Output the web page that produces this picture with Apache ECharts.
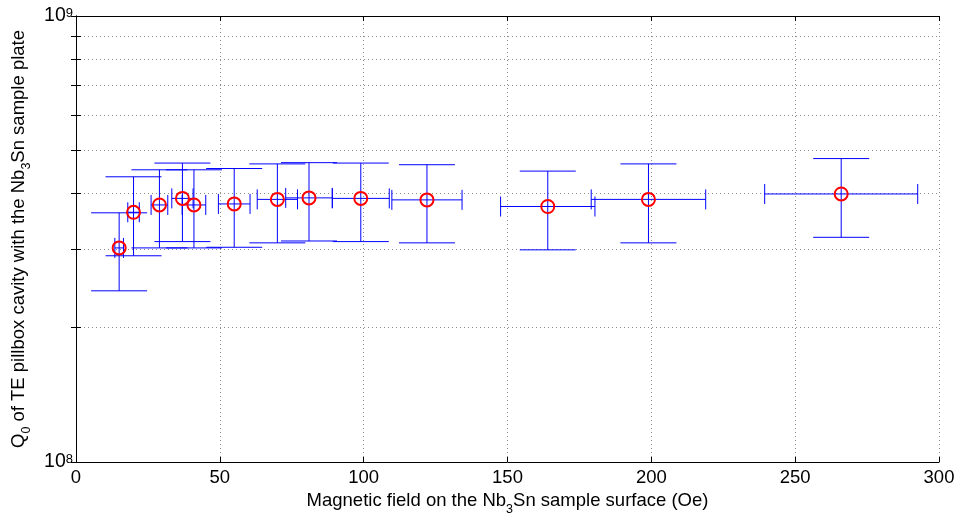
<!DOCTYPE html>
<html>
<head>
<meta charset="utf-8">
<script src="https://cdn.jsdelivr.net/npm/echarts@6/dist/echarts.min.js"></script>
<style>
  html, body { margin: 0; padding: 0; background: #fff; }
  #myChart { width: 962px; height: 516px; }
</style>
</head>
<body>
<div id="myChart"></div>
<script>
// measured points: field (Oe) and Q0
const fieldOe = [15, 20, 29, 37, 41, 55, 70, 81, 99, 122, 164, 199, 266]
const q0 = [3.02e8, 3.63e8, 3.77e8, 3.90e8, 3.77e8, 3.79e8, 3.88e8, 3.91e8, 3.90e8, 3.87e8, 3.74e8, 3.88e8, 3.99e8]
// error bars
const fieldErr = [1.5, 2.0, 2.9, 3.7, 4.1, 5.5, 7.0, 8.1, 9.9, 12.2, 16.4, 19.9, 26.6]
const q0Low = [2.42e8, 2.90e8, 3.02e8, 3.12e8, 3.02e8, 3.03e8, 3.10e8, 3.13e8, 3.12e8, 3.10e8, 2.99e8, 3.10e8, 3.19e8]
const q0High = [3.62e8, 4.36e8, 4.52e8, 4.68e8, 4.52e8, 4.55e8, 4.66e8, 4.69e8, 4.68e8, 4.64e8, 4.49e8, 4.66e8, 4.79e8]
// axis ticks
const xTicks = [0, 50, 100, 150, 200, 250, 300]
const yTicks = [1e8, 2e8, 3e8, 4e8, 5e8, 6e8, 7e8, 8e8, 9e8, 1e9]
const yLabelTicks = [1e8, 1e9]

const FONT = 'Liberation Sans'
const BLUE = '#0000ff'

let rows = fieldOe.map((x, i) => [x, q0[i], fieldErr[i], q0Low[i], q0High[i]])

function vBar (params, api) {
  let x = api.value(0)
  let lo = api.coord([x, api.value(3)])
  let hi = api.coord([x, api.value(4)])
  let cap = 28
  let st = { stroke: BLUE, lineWidth: 1 }
  return {
    type: 'group',
    children: [
      { type: 'line', shape: { x1: lo[0], y1: lo[1], x2: hi[0], y2: hi[1] }, style: st },
      { type: 'line', shape: { x1: lo[0] - cap, y1: lo[1], x2: lo[0] + cap, y2: lo[1] }, style: st },
      { type: 'line', shape: { x1: hi[0] - cap, y1: hi[1], x2: hi[0] + cap, y2: hi[1] }, style: st }
    ]
  }
}

function hBar (params, api) {
  let x = api.value(0)
  let y = api.value(1)
  let e = api.value(2)
  let l = api.coord([x - e, y])
  let r = api.coord([x + e, y])
  let cap = 10
  let st = { stroke: BLUE, lineWidth: 1 }
  return {
    type: 'group',
    children: [
      { type: 'line', shape: { x1: l[0], y1: l[1], x2: r[0], y2: r[1] }, style: st },
      { type: 'line', shape: { x1: l[0], y1: l[1] - cap, x2: l[0], y2: l[1] + cap }, style: st },
      { type: 'line', shape: { x1: r[0], y1: r[1] - cap, x2: r[0], y2: r[1] + cap }, style: st }
    ]
  }
}

let supRich = {
  b: { fontFamily: FONT, fontSize: 19.5, lineHeight: 19, color: '#000', verticalAlign: 'bottom' },
  s: { fontFamily: FONT, fontSize: 13, lineHeight: 13, color: '#000', verticalAlign: 'top', padding: [0, 0, 9, 0] }
}
let nameRich = {
  m: { fontFamily: FONT, fontSize: 18.5, lineHeight: 18, color: '#000', verticalAlign: 'top' },
  u: { fontFamily: FONT, fontSize: 12.5, lineHeight: 12, color: '#000', verticalAlign: 'top', padding: [11, 0, 0, 0] }
}

let dotted = { color: '#8c8c8c', width: 1, type: [1, 3] }

let myChart = echarts.init(document.getElementById('myChart'))
let option = {
  animation: false,
  backgroundColor: '#fff',
  grid: { left: 76, right: 23, top: 16, bottom: 54, outerBoundsMode: 'none' },
  xAxis: [
    {
      type: 'value',
      min: 0,
      max: 300,
      interval: 50,
      position: 'bottom',
      name: '{m|Magnetic field on the Nb}{u|3}{m|Sn sample surface (Oe)}',
      nameLocation: 'middle',
      nameGap: 24,
      nameTextStyle: { rich: nameRich },
      axisLine: { lineStyle: { color: '#000', width: 1 } },
      axisTick: { inside: true, length: 5, lineStyle: { color: '#000' }, customValues: xTicks },
      axisLabel: { fontFamily: FONT, fontSize: 18.5, color: '#000', margin: 6, customValues: xTicks },
      splitLine: { show: true, lineStyle: dotted }
    },
    {
      type: 'value',
      min: 0,
      max: 300,
      interval: 50,
      position: 'top',
      axisLine: { lineStyle: { color: '#000', width: 1 } },
      axisTick: { inside: true, length: 5, lineStyle: { color: '#000' } },
      axisLabel: { show: false },
      splitLine: { show: false }
    }
  ],
  yAxis: [
    {
      type: 'log',
      logBase: 10,
      min: 1e8,
      max: 1e9,
      position: 'left',
      name: '{m|Q}{u|0}{m| of TE pillbox cavity with the Nb}{u|3}{m|Sn sample plate}',
      nameLocation: 'middle',
      nameGap: 42,
      nameTextStyle: { rich: nameRich },
      axisLine: { show: true, lineStyle: { color: '#000', width: 1 } },
      axisTick: { show: true, inside: true, length: 5, lineStyle: { color: '#000' }, customValues: yTicks },
      axisLabel: {
        customValues: yLabelTicks,
        margin: 3,
        formatter: v => '{b|10}{s|' + Math.round(Math.log10(v)) + '}',
        rich: supRich
      },
      splitLine: { show: true, lineStyle: dotted }
    },
    {
      type: 'log',
      logBase: 10,
      min: 1e8,
      max: 1e9,
      position: 'right',
      axisLine: { show: true, lineStyle: { color: '#000', width: 1 } },
      axisTick: { show: true, inside: true, length: 5, lineStyle: { color: '#000' }, customValues: yTicks },
      axisLabel: { show: false },
      splitLine: { show: false }
    }
  ],
  series: [
    {
      name: 'Q0 error',
      type: 'custom',
      renderItem: vBar,
      data: rows,
      z: 2
    },
    {
      name: 'field error',
      type: 'custom',
      renderItem: hBar,
      data: rows,
      z: 2
    },
    {
      name: 'Q0',
      type: 'scatter',
      symbol: 'circle',
      symbolSize: 13,
      itemStyle: { color: 'rgba(0,0,0,0)', borderColor: '#ff0000', borderWidth: 2, opacity: 1 },
      data: rows.map(r => [r[0], r[1]]),
      z: 3
    }
  ]
}
myChart.setOption(option)
</script>
</body>
</html>
